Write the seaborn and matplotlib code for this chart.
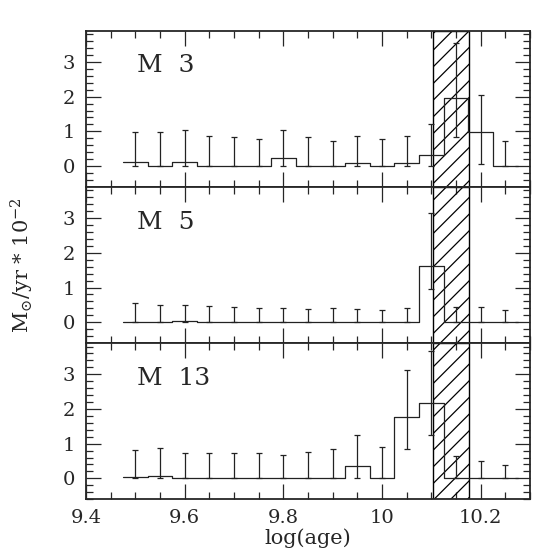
import numpy as np
import matplotlib
matplotlib.use("Agg")
import matplotlib.pyplot as plt
import seaborn as sns
from matplotlib.ticker import MultipleLocator

# bin centres in log(age)
log_age = [9.50, 9.55, 9.60, 9.65, 9.70, 9.75, 9.80, 9.85,
           9.90, 9.95, 10.00, 10.05, 10.10, 10.15, 10.20, 10.25]
bin_width = 0.05

# star formation rate per cluster (M_sun/yr * 1e-2), with error bar ends
m3_rate = [0.12, 0, 0.12, 0, 0, 0, 0.22, 0, 0, 0.09, 0, 0.08, 0.33, 1.95, 0.99, 0]
m3_hi = [0.99, 0.99, 1.03, 0.86, 0.84, 0.78, 1.04, 0.84, 0.71, 0.86, 0.79, 0.86, 1.22, 3.55, 2.04, 0.73]
m3_lo = [0, 0, 0, 0, 0, 0, 0, 0, 0, 0, 0, 0, 0, 0.84, 0.07, 0]

m5_rate = [0, 0, 0.04, 0, 0, 0, 0, 0, 0, 0, 0, 0, 1.62, 0, 0, 0]
m5_hi = [0.54, 0.50, 0.49, 0.46, 0.43, 0.42, 0.42, 0.39, 0.40, 0.37, 0.34, 0.42, 3.15, 0.44, 0.43, 0.36]
m5_lo = [0, 0, 0, 0, 0, 0, 0, 0, 0, 0, 0, 0, 0.97, 0, 0, 0]

m13_rate = [0.05, 0.06, 0, 0, 0, 0, 0, 0, 0, 0.36, 0, 1.78, 2.17, 0, 0, 0]
m13_hi = [0.81, 0.87, 0.72, 0.72, 0.72, 0.74, 0.66, 0.76, 0.86, 1.24, 0.89, 3.11, 3.66, 0.64, 0.51, 0.38]
m13_lo = [0, 0, 0, 0, 0, 0, 0, 0, 0, 0, 0, 0.85, 1.24, 0, 0, 0]

clusters = ["M  3", "M  5", "M  13"]
rates = [m3_rate, m5_rate, m13_rate]
highs = [m3_hi, m5_hi, m13_hi]
lows = [m3_lo, m5_lo, m13_lo]

# age of the universe band (hatched)
band = (10.104, 10.176)

sns.set_style("ticks")
plt.rcParams["font.family"] = ["DejaVu Serif"]
plt.rcParams["mathtext.fontset"] = "dejavuserif"
plt.rcParams["hatch.linewidth"] = 0.9

fig, axes = plt.subplots(3, 1, figsize=(5.59, 5.59), dpi=100, sharex=True)
fig.subplots_adjust(left=0.154, right=0.948, top=0.945, bottom=0.107, hspace=0)

centers = np.array(log_age)
edges = np.append(centers - bin_width / 2, centers[-1] + bin_width / 2).tolist()

for ax, name, rate, hi, lo in zip(axes, clusters, rates, highs, lows):
    rate = np.array(rate)
    sns.histplot(x=centers, weights=rate, bins=edges, element="step", fill=False,
                 color="#222222", linewidth=0.9, ax=ax)
    yerr = [rate - np.array(lo), np.array(hi) - rate]
    ax.errorbar(centers, rate, yerr=yerr, fmt="none", ecolor="#222222",
                elinewidth=0.9, capsize=2.5, capthick=0.9)
    ax.axvspan(band[0], band[1], facecolor="none", edgecolor="black",
               hatch="//", linewidth=1.0)
    ax.text(9.503, 2.7, name, fontsize=18, ha="left", va="baseline")

    ax.set_xlim(9.4, 10.3)
    ax.set_ylim(-0.6, 3.9)
    ax.set_ylabel("")
    ax.xaxis.set_major_locator(MultipleLocator(0.2))
    ax.xaxis.set_minor_locator(MultipleLocator(0.05))
    ax.yaxis.set_major_locator(MultipleLocator(1))
    ax.yaxis.set_minor_locator(MultipleLocator(0.2))
    ax.tick_params(which="both", direction="in", top=True, right=True, width=0.9,
                   labelsize=14, pad=8)
    ax.tick_params(which="major", length=11)
    ax.tick_params(which="minor", length=5)
    for sp in ax.spines.values():
        sp.set_linewidth(1.3)

axes[-1].set_xticks([9.4, 9.6, 9.8, 10.0, 10.2])
axes[-1].set_xticklabels(["9.4", "9.6", "9.8", "10", "10.2"])
axes[-1].tick_params(axis="x", pad=7)
axes[-1].set_xlabel("log(age)", fontsize=15, labelpad=1)
fig.text(0.04, 0.526, r"M$_{\odot}$/yr * 10$^{-2}$", rotation=90, fontsize=15,
         ha="center", va="center")

fig.savefig("out.png", dpi=100)
